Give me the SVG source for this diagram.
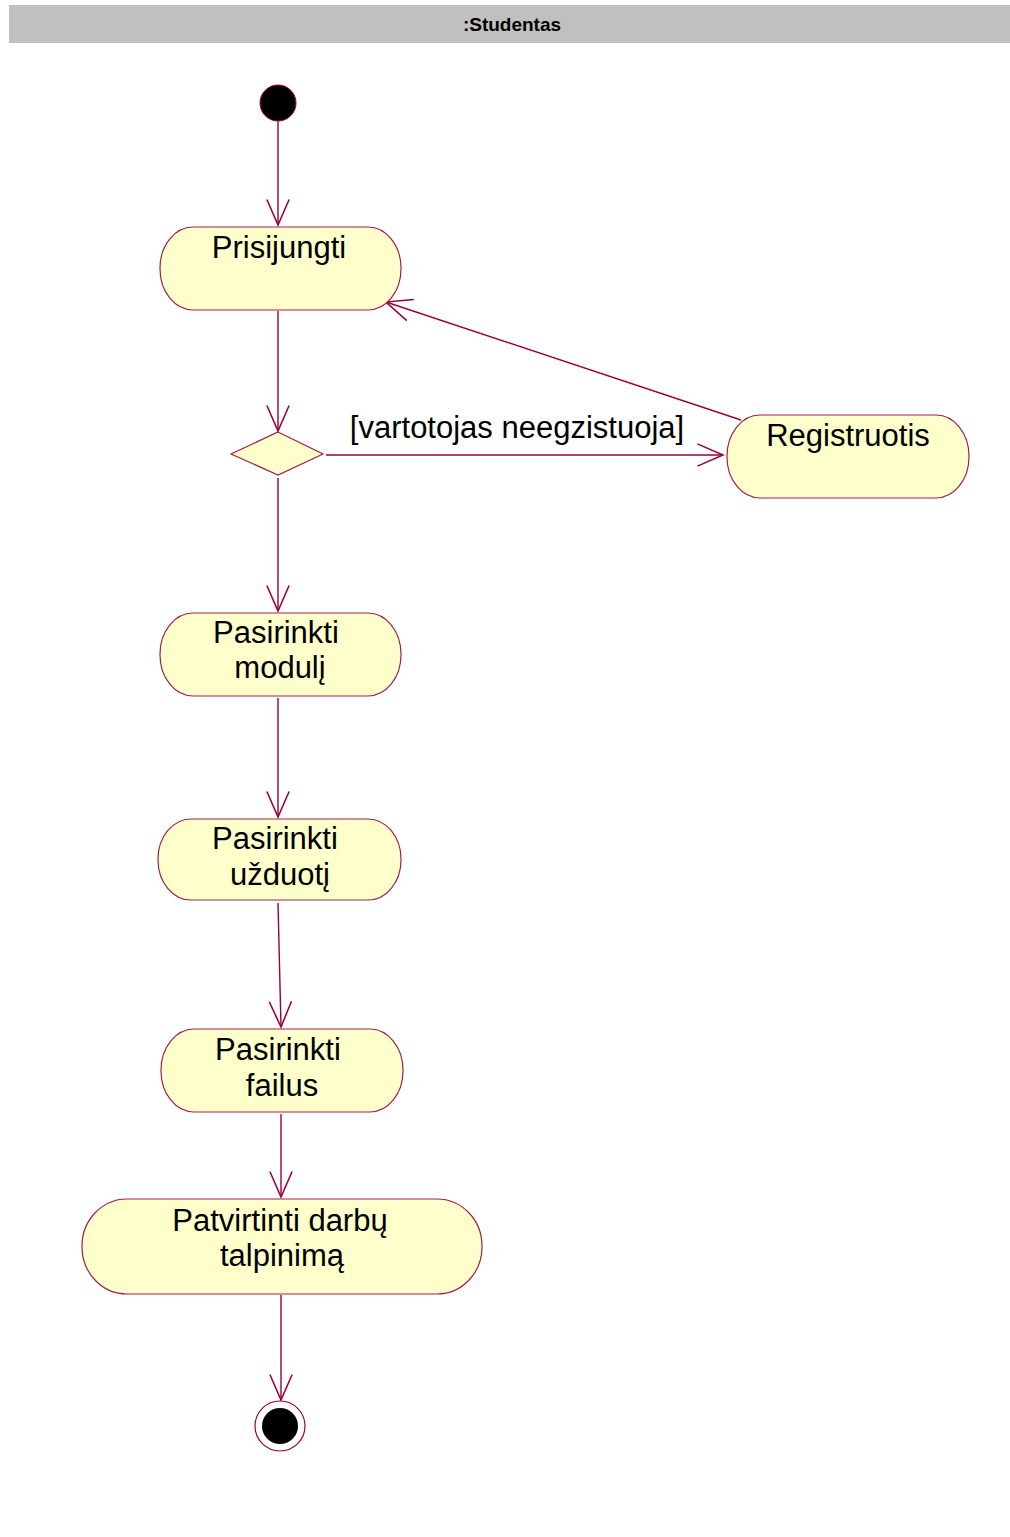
<svg xmlns="http://www.w3.org/2000/svg" width="1010" height="1537" viewBox="0 0 1010 1537">
  <style>
    .act { fill: #ffffcc; stroke: #a0204a; stroke-width: 1.2; }
    .lbl { font-family: "Liberation Sans", Arial, sans-serif; font-size: 31px; fill: #000; text-anchor: middle; }
    .edge { fill: none; stroke: #99003d; stroke-width: 1.4; marker-end: url(#open); }
    .title { font-family: "Liberation Sans", Arial, sans-serif; font-size: 19px; font-weight: bold; fill: #000; text-anchor: middle; }
  </style>
  <defs>
    <marker id="open" markerUnits="userSpaceOnUse" markerWidth="30" markerHeight="30" viewBox="-25 -12 27 24" refX="0" refY="0" orient="auto">
      <path d="M-23,-10 L0,0 L-23,10" fill="none" stroke="#99003d" stroke-width="1.4"/>
    </marker>
  </defs>
  <rect width="1010" height="1537" fill="#ffffff"/>

  <!-- swimlane header -->
  <g id="lane">
    <rect x="9" y="5" width="1001" height="38" fill="#c0c0c0"/>
    <text class="title" x="512" y="31">:Studentas</text>
  </g>

  <!-- connectors -->
  <g id="connectors">
    <line class="edge" x1="278" y1="121" x2="278" y2="225"/>
    <line class="edge" x1="278" y1="311" x2="278" y2="431"/>
    <line class="edge" x1="326" y1="455" x2="723" y2="455"/>
    <line class="edge" x1="741" y1="420" x2="386" y2="302"/>
    <line class="edge" x1="278" y1="478" x2="278" y2="611"/>
    <line class="edge" x1="278" y1="698" x2="278" y2="817"/>
    <line class="edge" x1="278" y1="903" x2="281" y2="1027"/>
    <line class="edge" x1="281" y1="1114" x2="281" y2="1197"/>
    <line class="edge" x1="281" y1="1295" x2="281" y2="1400"/>
    <text class="lbl" x="517" y="438">[vartotojas neegzistuoja]</text>
  </g>

  <g id="start">
    <circle cx="278" cy="103" r="18" fill="#000" stroke="#99003d" stroke-width="1"/>
  </g>

  <g id="prisijungti">
    <rect class="act" x="160" y="227" width="241" height="83" rx="33" ry="41"/>
    <text class="lbl" x="279" y="258">Prisijungti</text>
  </g>

  <g id="decision">
    <polygon points="278,432 323,454 278,475 231,454" fill="#ffffcc" stroke="#a0204a" stroke-width="1.2"/>
  </g>

  <g id="registruotis">
    <rect class="act" x="727" y="415" width="242" height="83" rx="33" ry="41"/>
    <text class="lbl" x="848" y="446">Registruotis</text>
  </g>

  <g id="pasirinkti-moduli">
    <rect class="act" x="160" y="613" width="241" height="83" rx="33" ry="41"/>
    <text class="lbl" x="276" y="643">Pasirinkti</text>
    <text class="lbl" x="280" y="678">modulį</text>
  </g>

  <g id="pasirinkti-uzduoti">
    <rect class="act" x="158" y="819" width="243" height="81" rx="33" ry="40"/>
    <text class="lbl" x="275" y="849">Pasirinkti</text>
    <text class="lbl" x="280" y="885">užduotį</text>
  </g>

  <g id="pasirinkti-failus">
    <rect class="act" x="161" y="1029" width="242" height="83" rx="33" ry="41"/>
    <text class="lbl" x="278" y="1060">Pasirinkti</text>
    <text class="lbl" x="282" y="1096">failus</text>
  </g>

  <g id="patvirtinti">
    <rect class="act" x="82" y="1199" width="400" height="95" rx="45" ry="47"/>
    <text class="lbl" x="280" y="1231">Patvirtinti darbų</text>
    <text class="lbl" x="282" y="1266">talpinimą</text>
  </g>

  <g id="end">
    <circle cx="280" cy="1426" r="25" fill="#ffffff" stroke="#99003d" stroke-width="1.2"/>
    <circle cx="280" cy="1426" r="18" fill="#000"/>
  </g>
</svg>
